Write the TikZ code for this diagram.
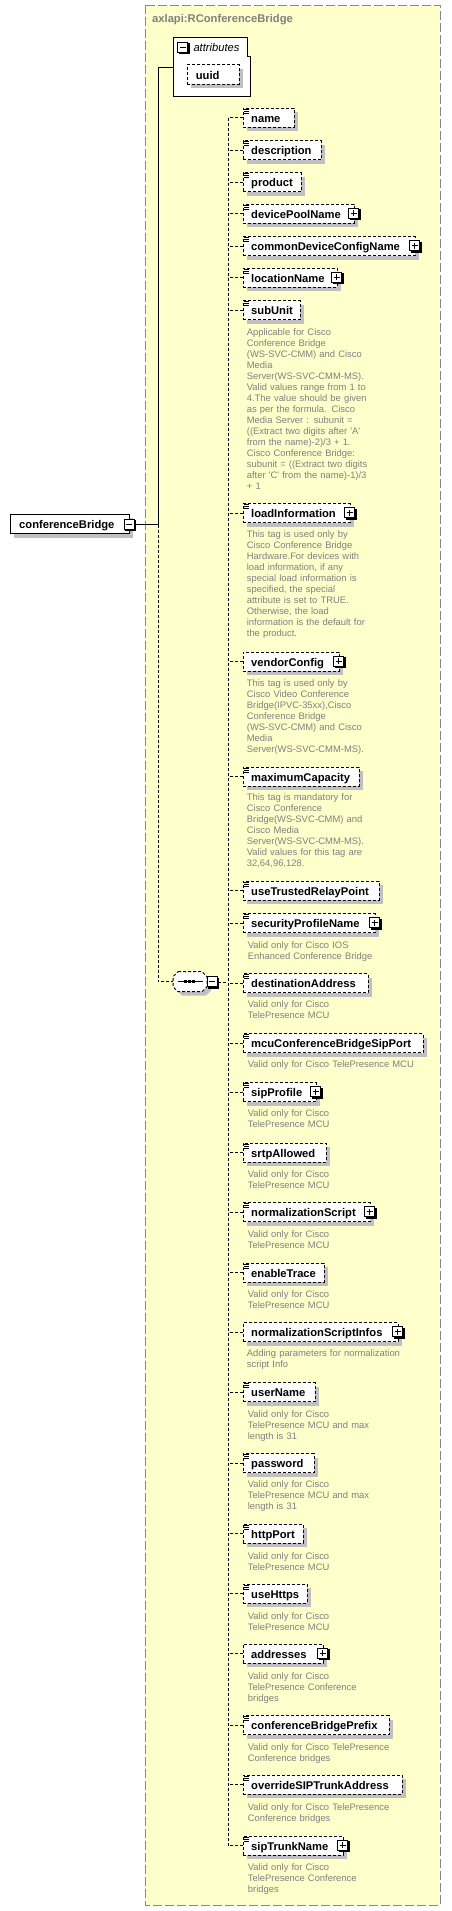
\documentclass[tikz,border=0pt]{standalone}
\usepackage{fontspec}
\setmainfont{Liberation Sans}[Ligatures=TeXOff]
\usetikzlibrary{calc}
\definecolor{bgyellow}{RGB}{255,255,204}
\definecolor{shadowgray}{RGB}{192,192,192}
\definecolor{anngray}{RGB}{128,128,128}
\definecolor{framegray}{RGB}{136,136,136}
\tikzset{
  frame/.style={draw=framegray, fill=bgyellow, line width=1.3pt, dash pattern=on 9pt off 3pt},
  elbox/.style={draw=black, fill=white, dash pattern=on 3pt off 2pt, line width=1pt, minimum height=19pt, inner sep=0pt, outer sep=0pt, anchor=west},
  ellabel/.style={font=\fontsize{11.2}{13}\selectfont\bfseries, inner sep=0pt, anchor=base west},
  ann/.style={font=\fontsize{9.4}{11}\selectfont, text=anngray, inner sep=0pt, anchor=base west, text width=200pt, align=left},
  conn/.style={line width=1pt, dash pattern=on 3pt off 2pt},
  solidconn/.style={line width=1pt},
}
\newcommand\PlusBox[2]{%
  \fill[black] (#1-4.5,#2-4.5) rectangle (#1+6.5,#2+6.5);
  \draw[fill=white, line width=1pt] (#1-5.5,#2-5.5) rectangle (#1+4.5,#2+4.5);
  \draw[line width=1pt] (#1-3.5,#2-0.5) -- (#1+2.5,#2-0.5) (#1-0.5,#2-3.5) -- (#1-0.5,#2+2.5);
}
\newcommand\MinusBox[2]{%
  \fill[black] (#1-4.5,#2-4.5) rectangle (#1+6.5,#2+6.5);
  \draw[fill=white, line width=1pt] (#1-5.5,#2-5.5) rectangle (#1+4.5,#2+4.5);
  \draw[line width=1pt] (#1-3.5,#2-0.5) -- (#1+2.5,#2-0.5);
}
\newcommand\El[6]{%
  \fill[shadowgray] (247,#2-5.5) rectangle (#3+4,#2+13.5);
  \node[elbox, minimum width={#3-243}] (e-#1) at (243,#2) {};
  \node[ellabel] (l-#1) at (251,#2+4.5) {#4};
  \ifnum#5=1 \draw[line width=0.8pt] (244,#2-8.5) -- (249,#2-8.5) (244,#2-6.5) -- (249,#2-6.5) (244,#2-4.5) -- (249,#2-4.5);\fi
  \ifnum#6=1 \PlusBox{#3}{#2}\fi
  \draw[conn] (e-#1.west) -- (e-#1.west -| vtop);
}
\newcommand\Ann[4]{\node[ann] (a-#1) at (#2,#3) {#4};}
\begin{document}
\begin{tikzpicture}[x=1pt,y=-1pt]
\useasboundingbox (0,0) rectangle (451,1911);
\fill[white] (0,0) rectangle (451,1911);
\draw[frame] (145.3,5.3) rectangle (440.3,1905.3);
\node[font=\fontsize{11.2}{13}\selectfont\bfseries, text=anngray, anchor=base west, inner sep=0pt] (title) at (152,22.7) {axlapi:RConferenceBridge};

% attributes
\draw[line width=1pt, fill=white] (173,38) -- (247,38) -- (247,57) -- (250,57) -- (250,96) -- (173,96) -- cycle;
\coordinate (attrsW) at (173,67.7);
\MinusBox{183}{48}
\node[font=\fontsize{11.2}{13}\selectfont\itshape, anchor=base west, inner sep=0pt] (attrlbl) at (193.3,51.7) {attributes};
\fill[shadowgray] (191,69) rectangle (243,88);
\node[elbox, minimum width=52] (uuid) at (187,74.5) {};
\node[ellabel] (uuidlbl) at (195.7,79) {uuid};

% conferenceBridge
\fill[shadowgray] (14.3,518) rectangle (133.3,537.5);
\node[draw, line width=1pt, fill=white, minimum width=119, minimum height=19.3, anchor=west, inner sep=0pt] (cb) at (10.3,523.7) {};
\node[ellabel] (cblbl) at (19,528.2) {conferenceBridge};
\MinusBox{129.7}{524.8}
\coordinate (cbm) at (135.5,524.5);
\coordinate (trunkMid) at (158.3,524.5);
\draw[solidconn] (attrsW) -| (trunkMid);
\draw[solidconn] (cbm) -- (trunkMid);

% sequence
\node[inner sep=0pt, minimum width=34, minimum height=20] (seq) at (190,981.7) {};
\fill[shadowgray] (182,975.7) -- (206,975.7) -- (211,980.7) -- (211,990.7) -- (206,995.7) -- (182,995.7) -- (177,990.7) -- (177,980.7) -- cycle;
\draw[conn, fill=white] (178,971.7) -- (202,971.7) -- (207,976.7) -- (207,986.7) -- (202,991.7) -- (178,991.7) -- (173,986.7) -- (173,976.7) -- cycle;
\draw[line width=1pt] (178,981.7) -- (203,981.7);
\fill (184.2,980.2) rectangle (187.2,983.2);
\fill (188.2,980.2) rectangle (191.2,983.2);
\fill (192.2,980.2) rectangle (195.2,983.2);
\MinusBox{212.8}{982.3}
\coordinate (seqm) at (218.3,982.3);
\draw[conn] (trunkMid) |- (seq.west);
\coordinate (vtop) at (228,117.5);
\coordinate (vbot) at (228,1845.5);
\draw[conn] (vtop) -- (vbot);
\draw[conn] (seqm) -- (seqm -| vtop);

\El{name}{117.5}{294}{name}{1}{0}
\El{description}{150}{321}{description}{1}{0}
\El{product}{182}{301}{product}{1}{0}
\El{devicePoolName}{213.5}{354}{devicePoolName}{1}{1}
\El{commonDeviceConfigName}{246}{415}{commonDeviceConfigName}{1}{1}
\El{locationName}{277.5}{337}{locationName}{1}{1}
\El{subUnit}{310}{300}{subUnit}{1}{0}
\El{loadInformation}{513}{350}{loadInformation}{1}{1}
\El{vendorConfig}{661.5}{339}{vendorConfig}{0}{1}
\El{maximumCapacity}{776.5}{359}{maximumCapacity}{1}{0}
\El{useTrustedRelayPoint}{890.5}{379}{useTrustedRelayPoint}{1}{0}
\El{securityProfileName}{923}{375}{securityProfileName}{1}{1}
\El{destinationAddress}{983}{368}{destinationAddress}{1}{0}
\El{mcuConferenceBridgeSipPort}{1043}{423}{mcuConferenceBridgeSipPort}{1}{0}
\El{sipProfile}{1092}{316}{sipProfile}{1}{1}
\El{srtpAllowed}{1152.5}{326}{srtpAllowed}{1}{0}
\El{normalizationScript}{1212}{370}{normalizationScript}{1}{1}
\El{enableTrace}{1272.5}{324}{enableTrace}{1}{0}
\El{normalizationScriptInfos}{1332}{398}{normalizationScriptInfos}{0}{1}
\El{userName}{1392}{315}{userName}{1}{0}
\El{password}{1463}{314}{password}{1}{0}
\El{httpPort}{1533.5}{303}{httpPort}{1}{0}
\El{useHttps}{1593.5}{307}{useHttps}{1}{0}
\El{addresses}{1653.5}{323}{addresses}{0}{1}
\El{conferenceBridgePrefix}{1725}{389}{conferenceBridgePrefix}{1}{0}
\El{overrideSIPTrunkAddress}{1784.5}{402}{overrideSIPTrunkAddress}{1}{0}
\El{sipTrunkName}{1845.5}{343}{sipTrunkName}{1}{1}

\Ann{subUnit}{246.7}{335.2}{Applicable for Cisco\\Conference Bridge\\(WS-SVC-CMM) and Cisco\\Media\\Server(WS-SVC-CMM-MS).\\Valid values range from 1 to\\4.The value should be given\\as per the formula. Cisco\\Media Server : subunit =\\((Extract two digits after 'A'\\from the name)-2)/3 + 1.\\Cisco Conference Bridge:\\subunit = ((Extract two digits\\after 'C' from the name)-1)/3\\+ 1}
\Ann{loadInformation}{246.7}{537.8}{This tag is used only by\\Cisco Conference Bridge\\Hardware.For devices with\\load information, if any\\special load information is\\specified, the special\\attribute is set to TRUE.\\Otherwise, the load\\information is the default for\\the product.}
\Ann{vendorConfig}{246.7}{686.2}{This tag is used only by\\Cisco Video Conference\\Bridge(IPVC-35xx),Cisco\\Conference Bridge\\(WS-SVC-CMM) and Cisco\\Media\\Server(WS-SVC-CMM-MS).}
\Ann{maximumCapacity}{246.7}{800.2}{This tag is mandatory for\\Cisco Conference\\Bridge(WS-SVC-CMM) and\\Cisco Media\\Server(WS-SVC-CMM-MS).\\Valid values for this tag are\\32,64,96,128.}
\Ann{securityProfileName}{247.7}{948.2}{Valid only for Cisco IOS\\Enhanced Conference Bridge}
\Ann{destinationAddress}{247.7}{1007.8}{Valid only for Cisco\\TelePresence MCU}
\Ann{mcuConferenceBridgeSipPort}{247.7}{1067.8}{Valid only for Cisco TelePresence MCU}
\Ann{sipProfile}{247.7}{1116.8}{Valid only for Cisco\\TelePresence MCU}
\Ann{srtpAllowed}{247.7}{1177.2}{Valid only for Cisco\\TelePresence MCU}
\Ann{normalizationScript}{247.7}{1237.2}{Valid only for Cisco\\TelePresence MCU}
\Ann{enableTrace}{247.7}{1297.2}{Valid only for Cisco\\TelePresence MCU}
\Ann{normalizationScriptInfos}{246.7}{1356.8}{Adding parameters for normalization\\script Info}
\Ann{userName}{247.7}{1417.2}{Valid only for Cisco\\TelePresence MCU and max\\length is 31}
\Ann{password}{247.7}{1487.8}{Valid only for Cisco\\TelePresence MCU and max\\length is 31}
\Ann{httpPort}{247.7}{1559.2}{Valid only for Cisco\\TelePresence MCU}
\Ann{useHttps}{247.7}{1619.2}{Valid only for Cisco\\TelePresence MCU}
\Ann{addresses}{247.7}{1679.2}{Valid only for Cisco\\TelePresence Conference\\bridges}
\Ann{conferenceBridgePrefix}{247.7}{1750.2}{Valid only for Cisco TelePresence\\Conference bridges}
\Ann{overrideSIPTrunkAddress}{247.7}{1810.2}{Valid only for Cisco TelePresence\\Conference bridges}
\Ann{sipTrunkName}{247.7}{1870.2}{Valid only for Cisco\\TelePresence Conference\\bridges}
\end{tikzpicture}
\end{document}
